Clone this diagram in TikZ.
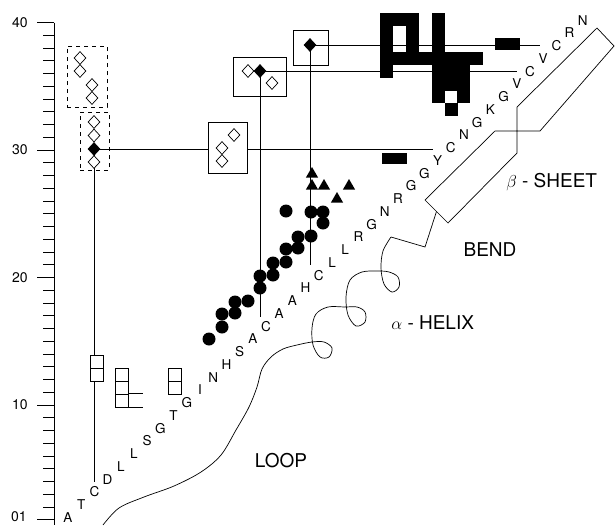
\documentclass[tikz,border=0pt]{standalone}
\usepackage{fontspec}
\setmainfont{TeX Gyre Heros}
\usetikzlibrary{shapes.geometric}

\begin{document}
\begin{tikzpicture}[x=1pt,y=-1pt,line width=0.7pt,
  odia/.style={draw,diamond,fill=white,inner sep=0pt,minimum width=12pt,minimum height=13pt},
  fdia/.style={odia,fill=black},
  disc/.style={circle,fill=black,inner sep=0pt,minimum size=13pt},
  tri/.style={regular polygon,regular polygon sides=3,fill=black,inner sep=0pt,minimum size=14pt},
  sq/.style={draw,fill=white,inner sep=0pt,minimum width=13pt,minimum height=13pt},
  frame/.style={draw,inner sep=0pt},
  dframe/.style={draw,inner sep=0pt,dash pattern=on 4pt off 4pt},
  res/.style={font=\fontsize{13.5}{13.5}\selectfont,inner sep=0pt},
  axlbl/.style={font=\fontsize{14}{14}\selectfont,inner sep=0pt},
  lab/.style={font=\fontsize{19}{19}\selectfont,inner sep=0pt}]
  \useasboundingbox (0,0) rectangle (616,525);
  % ---- axis ----
  \coordinate (axtop) at (54,22.5);
  \coordinate (axbot) at (54,525);
  \draw (axtop) -- (axbot);
  \foreach \j in {1,...,40}
    \draw (43,{532.5-12.75*\j}) -- ++(11,0);
  \foreach \j in {1,10,20,30,40}
    \draw (37,{532.5-12.75*\j}) -- ++(17,0);
  \foreach \j/\t in {10/10,20/20,30/30,40/40}
    \node[axlbl,anchor=east] (y\j) at (28,{532.5-12.75*\j}) {\t};
  \node[axlbl,anchor=east] (y1) at (27,517) {01};
  % ---- sequence ----
  \foreach \a [count=\i from 0] in {A,T,C,D,L,L,S,G,T,G,I,N,H,S,A,C,A,A,H,C,
                                    L,L,R,G,N,R,G,G,Y,C,N,G,K,G,V,C,V,C,R,N}
    \node[res] (s\i) at ({68+13.2*\i},{517.5-12.75*\i}) {\a};
  % ---- frames ----
  \node[dframe,minimum width=40pt,minimum height=61pt] (bxA) at (87,76.5) {};
  \node[dframe,minimum width=29pt,minimum height=58pt] (bxB) at (94.5,141) {};
  \node[frame,minimum width=39pt,minimum height=51pt] (bxC) at (227.5,147.5) {};
  \node[frame,minimum width=53pt,minimum height=39pt] (bxD) at (259.5,76.5) {};
  \node[frame,minimum width=35pt,minimum height=35pt] (bxE) at (310.5,47.5) {};
  % ---- connectors ----
  \coordinate (kC) at (94,149);
  \coordinate (kD) at (260,71);
  \coordinate (kE) at (310,45);
  \coordinate (cEnd) at (94,482);
  \coordinate (h30) at (433,149);
  \coordinate (h36) at (517,71);
  \coordinate (h38) at (540,45);
  \coordinate (v16) at (260,317);
  \coordinate (v20) at (310,265);
  \draw (kC) -- (cEnd);
  \draw (kC) -- (kC -| bxC.west);
  \draw (kC -| bxC.east) -- (h30);
  \draw (kD) -- (h36);
  \draw (kD) -- (v16);
  \draw (kE) -- (h38);
  \draw (kE) -- (v20);
  % ---- diamonds ----
  \node[odia] (dA1) at (80,58) {};
  \node[odia] (dA2) at (80,71) {};
  \node[odia] (dA3) at (92,85) {};
  \node[odia] (dA4) at (92,98) {};
  \node[odia] (dB1) at (94,122) {};
  \node[odia] (dB2) at (94,135.5) {};
  \node[odia] (dB4) at (94,162) {};
  \node[fdia] (dB3) at (kC) {};
  \node[odia] (dC1) at (222,148) {};
  \node[odia] (dC2) at (222,161) {};
  \node[odia] (dC3) at (234,135) {};
  \node[odia] (dD1) at (248,71) {};
  \node[odia] (dD3) at (272,83) {};
  \node[fdia] (dD2) at (kD) {};
  \node[fdia] (dE1) at (kE) {};
  % ---- square glyphs ----
  \node[sq] (g11) at (96.5,361.5) {};
  \node[sq] (g12) at (96.5,374.5) {};
  \node[sq] (g21) at (122,374.5) {};
  \node[sq] (g22) at (122,387.5) {};
  \node[sq] (g23) at (122,400.5) {};
  \draw (g23.north east) -- ++(14,0);
  \draw (g23.south east) -- ++(14,0);
  \node[sq] (g31) at (174.5,374.5) {};
  \node[sq] (g32) at (174.5,387.5) {};
  % ---- discs and triangles ----
  \foreach \p [count=\k] in {(209,339),(222,327),(222,314),(235,313),(235,302),
      (248,301),(260,288),(260,276),(273,275),(273,263),(286,262),(286,249),
      (298,248),(298,237),(311,236),(286,211),(311,212),(323,212),(323,223)}
    \node[disc] (c\k) at \p {};
  \foreach \p [count=\k] in {(312,174),(312,186),(324,186),(349,186),(337,199)}
    \node[tri] (t\k) at \p {};
  % ---- black contact block ----
  \foreach \c/\r in {0/0,1/0,2/0,4/0, 0/1,2/1,4/1, 0/2,2/2,4/2,
      0/3,1/3,2/3,3/3,4/3,5/3,6/3,7/3, 0/4,4/4,5/4,6/4,
      4/5,5/5,6/5, 4/6,6/6, 5/7}
    \fill ({380+12.9*\c},{13+12.9*\r}) rectangle ++(13,13);
  \fill (382,153) rectangle (407,164);
  \fill (495,38) rectangle (520,50);
  % ---- beta sheet ribbon ----
  \coordinate (capM) at (436.5,211.5);
  \draw (425,200) -- (495,131) -- (540,131) -- (614,46) -- (597,28)
     -- (517,107) -- (517,153) -- (448,223) -- cycle;
  % ---- bend, helix, loop ----
  \coordinate (bd1) at (425,247);
  \coordinate (bd2) at (391,237);
  \draw (capM) -- (bd1) -- (bd2);
  \draw plot[smooth,tension=0.55] coordinates {(391,237) (383,251) (381,268)
     (384,284) (392,292) (399,287) (398,277) (389,272) (378,271) (362,272)
     (350,280) (346,297) (348,315) (356,326) (365,322) (365,312) (357,307)
     (345,307) (328,307) (316,314) (312,328) (313,345) (320,357) (329,357)
     (332,348) (324,342) (312,342) (297,345) (283,349) (271,357) (262,369)
     (257,387) (249,407) (236,430) (221,455) (201,472) (174,486) (144,497)
     (119,508) (103,525)};
  % ---- labels ----
  \node[lab,anchor=west] (lsheet) at (506,182) {$\beta$ - SHEET};
  \node[lab] (lbend) at (490,250) {BEND};
  \node[lab,anchor=west] (lhelix) at (391,323) {$\alpha$ - HELIX};
  \node[lab] (lloop) at (281,461) {LOOP};
\end{tikzpicture}
\end{document}
